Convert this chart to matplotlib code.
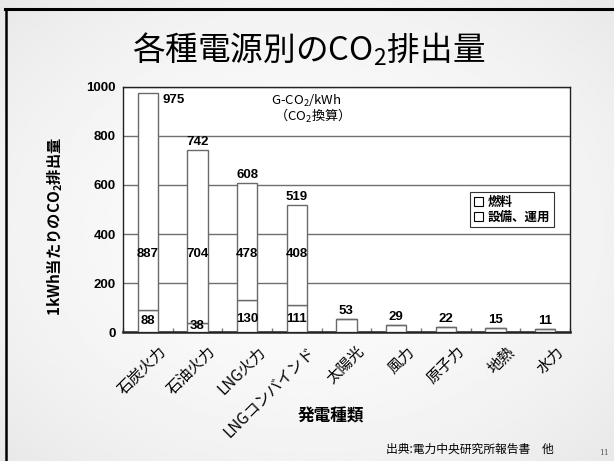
import numpy as np
import matplotlib.pyplot as plt
import matplotlib.transforms as mtransforms
from matplotlib.lines import Line2D
from matplotlib.patches import Patch

# 発電種類ごとのCO2排出量 (g-CO2/kWh)
categories = ['石炭火力', '石油火力', 'LNG火力', 'LNGコンバインド', '太陽光',
              '風力', '原子力', '地熱', '水力']
fuel = [887, 704, 478, 408, 0, 0, 0, 0, 0]          # 燃料
facility = [88, 38, 130, 111, 53, 29, 22, 15, 11]   # 設備、運用
yticks = [0, 200, 400, 600, 800, 1000]

total = [f + s for f, s in zip(fuel, facility)]

JP = ['Noto Sans CJK JP', 'DejaVu Sans']
NUM = 'Liberation Sans'

fig = plt.figure(figsize=(6.14, 4.61), dpi=100)

# スライド背景（薄いグレーのグラデーション）
bg = fig.add_axes([0, 0, 1, 1], zorder=-10)
yy, xx = np.mgrid[-1:1:200j, -1:1:200j]
shade = 0.985 - 0.075 * (xx ** 2 + yy ** 2) / 2
bg.imshow(shade, cmap='gray', vmin=0, vmax=1, extent=[0, 1, 0, 1],
          aspect='auto', interpolation='bilinear')
bg.axis('off')

# スライドの枠線
fig.add_artist(Line2D([0.0085, 1.0], [0.9815, 0.9815], color='black', lw=2.2,
                      transform=fig.transFigure))
fig.add_artist(Line2D([0.0098, 0.0098], [0.0, 0.9815], color='black', lw=1.8,
                      transform=fig.transFigure))

fig.text(0.503, 0.893, '各種電源別のCO$_\\mathregular{2}$排出量',
         family=JP, fontsize=23.5, ha='center', va='center')

ax = fig.add_axes([0.2003, 0.2798, 0.728, 0.5315])
ax.set_facecolor('white')

x = np.arange(len(categories))
w = 0.41
edge = '#6a6a6a'
ax.bar(x, facility, w, color='white', edgecolor=edge, lw=1.0, zorder=3)
ax.bar(x, fuel, w, bottom=facility, color='white', edgecolor=edge, lw=1.0,
       zorder=3)

ax.set_xlim(-0.5, len(categories) - 0.5)
ax.set_ylim(0, 1000)
ax.set_yticks(yticks)
ax.set_yticklabels([str(v) for v in yticks], family=NUM, fontweight='bold',
                   fontsize=9.5)
ax.tick_params(axis='y', length=0, pad=5)

ax.set_xticks(x)
ax.set_xticklabels(categories, family=JP, fontsize=11, rotation=45,
                   ha='right', va='top', rotation_mode='anchor')
ax.tick_params(axis='x', which='major', length=0, pad=3)
# 項目名を少し右下へずらす
shift = mtransforms.ScaledTranslation(7 / 72, -5 / 72, fig.dpi_scale_trans)
for lbl in ax.get_xticklabels():
    lbl.set_transform(lbl.get_transform() + shift)
ax.set_xticks(np.arange(len(categories) + 1) - 0.5, minor=True)
ax.tick_params(axis='x', which='minor', direction='in', length=3,
               color='#777777', width=1)

ax.yaxis.grid(True, color='#707070', lw=1.0, zorder=0)
ax.set_axisbelow(True)
for side in ['top', 'right', 'left']:
    ax.spines[side].set_color('#222222')
    ax.spines[side].set_linewidth(1.0)
ax.spines['bottom'].set_color('#222222')
ax.spines['bottom'].set_linewidth(1.8)

# 数値ラベル
for i in range(len(categories)):
    if fuel[i] > 0:
        ax.text(i, 320, str(fuel[i]), ha='center', va='center', family=NUM,
                fontweight='bold', fontsize=9.5, zorder=5)
        ax.text(i, max(min(facility[i] / 2, 52), 26), str(facility[i]),
                ha='center', va='center', family=NUM, fontweight='bold',
                fontsize=9.5, zorder=5)
    if i == 0:
        ax.text(i + 0.3, total[i] - 5, str(total[i]), ha='left', va='top',
                family=NUM, fontweight='bold', fontsize=9.5, zorder=5)
    else:
        ax.text(i, total[i] + 8, str(total[i]), ha='center', va='bottom',
                family=NUM, fontweight='bold', fontsize=9.5, zorder=5)

ax.text(3.19, 945, 'G-CO$_\\mathregular{2}$/kWh', family=JP, fontsize=9.5,
        ha='center', va='center')
ax.text(3.23, 880, '（CO$_\\mathregular{2}$換算）', family=JP, fontsize=9.5,
        ha='center', va='center')

handles = [Patch(facecolor='white', edgecolor='black', lw=0.8),
           Patch(facecolor='white', edgecolor='black', lw=0.8)]
leg = ax.legend(handles, ['燃料', '設備、運用'], loc='upper left',
                bbox_to_anchor=(0.776, 0.571), borderaxespad=0,
                prop={'family': JP, 'weight': 'bold', 'size': 9},
                handlelength=0.75, handleheight=0.75, handletextpad=0.4,
                labelspacing=0.15, borderpad=0.3, fancybox=False,
                framealpha=1, edgecolor='#333333')
leg.get_frame().set_linewidth(0.8)

fig.text(0.0896, 0.508, '1kWh当たりのCO$_\\mathregular{2}$排出量', family=JP,
         fontweight='bold', fontsize=11, rotation=90, ha='center',
         va='center')
fig.text(0.539, 0.097, '発電種類', family=JP, fontweight='bold', fontsize=12,
         ha='center', va='center')
fig.text(0.765, 0.026, '出典:電力中央研究所報告書　他', family=JP, fontsize=8.5,
         ha='center', va='center')
fig.text(0.983, 0.018, '11', family='DejaVu Serif', fontsize=5.5,
         color='#555555', ha='center', va='center')

fig.savefig('out.png', dpi=100)
